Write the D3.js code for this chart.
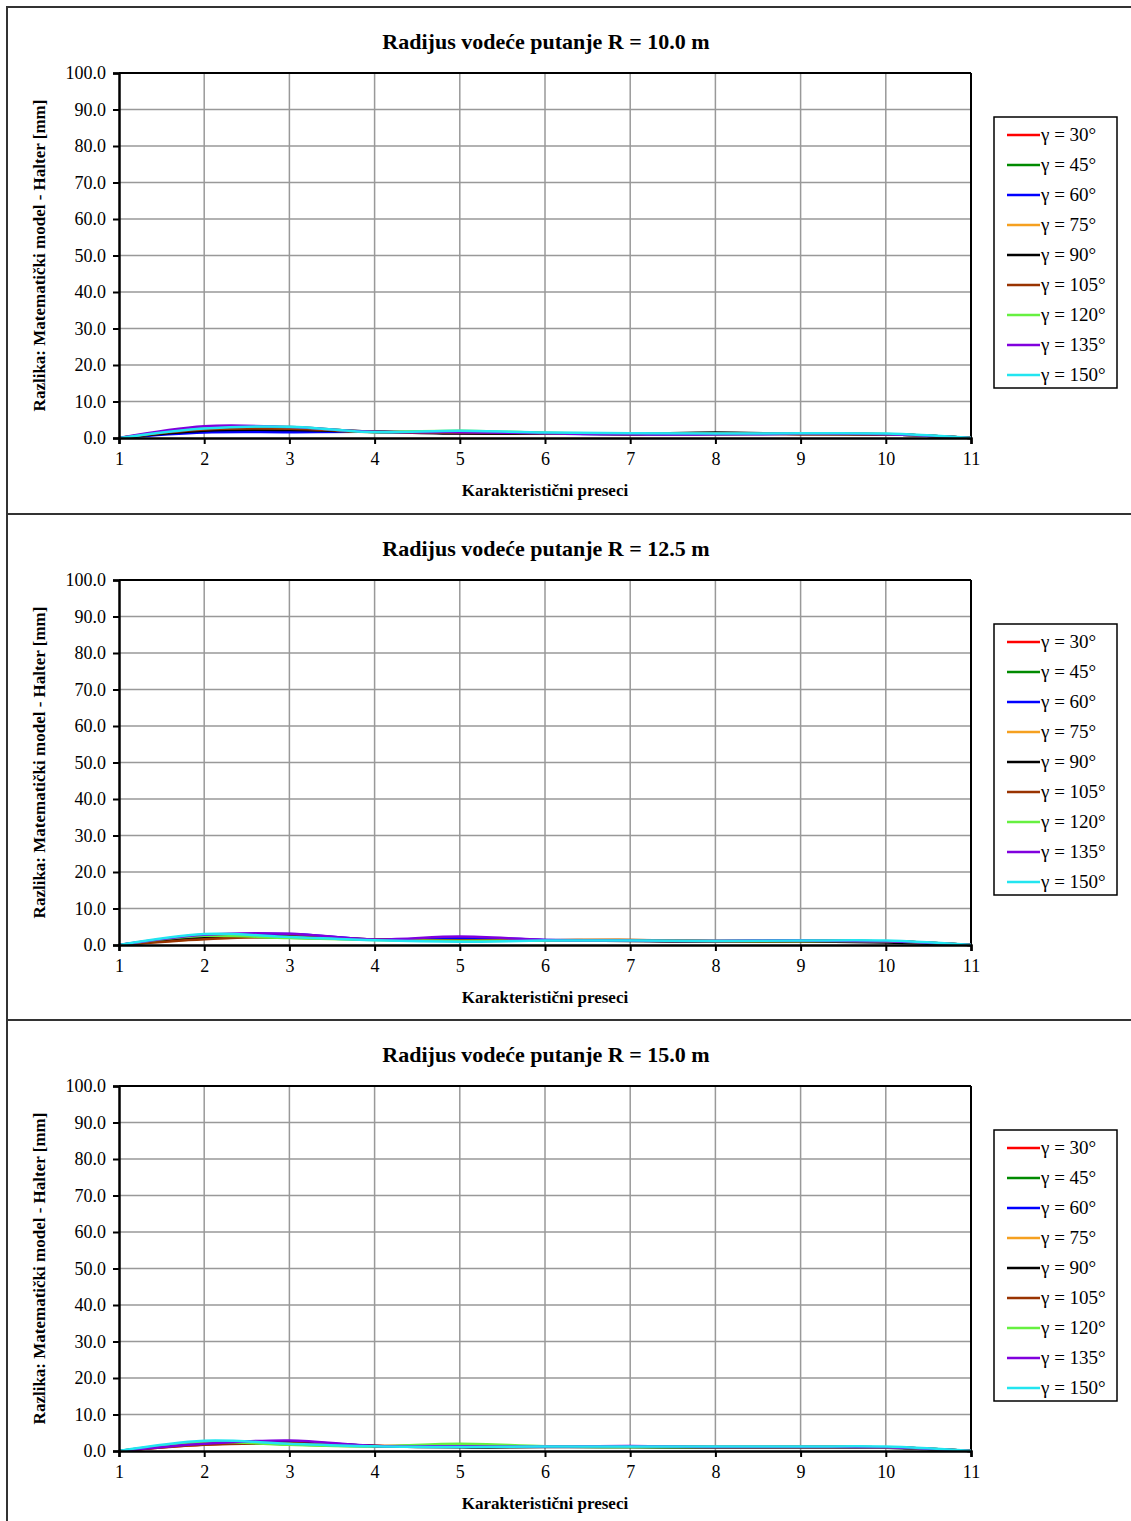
<!DOCTYPE html>
<html><head><meta charset="utf-8">
<script src="https://cdn.jsdelivr.net/npm/d3@7"></script>
<style>
body{margin:0;background:#fff;}
svg{display:block;font-family:"Liberation Serif","Times New Roman",serif;}
</style></head>
<body>
<svg id="c" width="1131" height="1521"></svg>
<script>
const sections = [1,2,3,4,5,6,7,8,9,10,11];
const yTicks = [0,10,20,30,40,50,60,70,80,90,100];
const seriesNames = ["γ = 30°","γ = 45°","γ = 60°","γ = 75°","γ = 90°","γ = 105°","γ = 120°","γ = 135°","γ = 150°"];
const seriesColors = ["#ff0000","#008a00","#0000ff","#f5a020","#000000","#993300","#66f040","#8000dd","#22e5f0"];
const chartTitles = ["Radijus vodeće putanje R = 10.0 m","Radijus vodeće putanje R = 12.5 m","Radijus vodeće putanje R = 15.0 m"];
const yLabel = "Razlika: Matematički model - Halter [mm]";
const xLabel = "Karakteristični preseci";

const r10 = [
 [0,2.5,2.6,1.7,1.6,1.3,1.1,1.2,1.1,1.0,0],
 [0,2.4,2.8,1.7,1.8,1.4,1.1,1.1,1.2,1.0,0],
 [0,1.5,1.6,1.7,1.3,1.2,1.0,1.0,1.1,1.0,0],
 [0,2.2,2.4,1.6,1.5,1.3,1.1,1.1,1.1,1.0,0],
 [0,2.0,2.2,1.7,1.2,1.2,1.1,1.5,1.1,1.0,0],
 [0,2.3,2.5,1.6,1.4,1.3,1.1,1.3,1.1,1.0,0],
 [0,2.8,3.0,1.7,2.0,1.4,1.2,1.1,1.2,1.1,0],
 [0,3.2,3.0,1.7,1.6,1.3,1.0,1.0,1.2,1.0,0],
 [0,2.6,3.1,1.6,2.0,1.5,1.3,1.2,1.3,1.2,0]
];
const r125 = [
 [0,2.0,2.2,1.5,1.3,1.2,1.2,1.0,1.1,1.0,0],
 [0,2.2,2.0,1.5,1.2,1.3,1.2,1.0,1.1,1.0,0],
 [0,2.6,3.0,1.5,2.0,1.4,1.2,1.1,1.2,1.0,0],
 [0,1.7,2.3,1.5,1.3,1.3,1.4,1.0,1.1,1.0,0],
 [0,2.0,2.3,1.5,1.2,1.2,1.1,1.0,1.0,0.7,0],
 [0,1.6,2.2,1.5,1.3,1.3,1.4,1.1,1.1,1.0,0],
 [0,2.5,1.9,1.4,1.1,1.2,1.2,1.1,1.1,1.0,0],
 [0,2.8,3.1,1.5,2.3,1.4,1.2,1.1,1.2,1.0,0],
 [0,3.0,2.2,1.3,0.9,1.2,1.2,1.1,1.2,1.2,0]
];
const r15 = [
 [0,1.8,2.2,1.4,1.4,1.2,1.2,1.1,1.1,1.0,0],
 [0,2.2,1.8,1.3,1.6,1.2,1.1,1.0,1.1,1.0,0],
 [0,2.3,2.6,1.4,1.3,1.2,1.3,1.1,1.1,1.0,0],
 [0,1.9,2.2,1.4,1.4,1.2,1.2,1.1,1.1,1.0,0],
 [0,2.0,2.3,1.4,1.0,1.1,1.1,1.0,1.0,0.9,0],
 [0,1.7,2.1,1.4,1.3,1.2,1.2,1.1,1.1,1.0,0],
 [0,2.4,1.7,1.3,2.0,1.3,1.1,1.1,1.1,1.0,0],
 [0,2.0,2.9,1.4,1.3,1.2,1.4,1.1,1.1,1.0,0],
 [0,2.8,2.0,1.3,1.1,1.2,1.2,1.2,1.2,1.2,0]
];
const panelData = [r10, r125, r15];
const panelTops = [7, 514, 1020];

const svg = d3.select("#c");

// outer frame lines
svg.append("line").attr("x1",7).attr("x2",7).attr("y1",6).attr("y2",1521).attr("stroke","#333").attr("stroke-width",2);
panelTops.forEach(t=>{
  svg.append("line").attr("x1",6).attr("x2",1131).attr("y1",t).attr("y2",t).attr("stroke","#333").attr("stroke-width",2);
});

const plotL = 119, plotR = 971, plotH = 365;
const FONT = "Liberation Serif, Times New Roman, serif";

panelData.forEach((data, pi) => {
  const top = panelTops[pi];
  const pT = top + 66, pB = pT + plotH;
  const g = svg.append("g");
  const x = d3.scaleLinear().domain([1,11]).range([plotL, plotR]);
  const y = d3.scaleLinear().domain([0,100]).range([pB, pT]);

  // title
  g.append("text").attr("x",(plotL+plotR)/2+1).attr("y",top+42).attr("text-anchor","middle")
    .attr("font-size",22).attr("font-weight","bold").text(chartTitles[pi]);

  // grid
  g.append("g").selectAll("line").data(yTicks.slice(1)).join("line")
    .attr("x1",plotL).attr("x2",plotR).attr("y1",d=>y(d)).attr("y2",d=>y(d))
    .attr("stroke","#999").attr("stroke-width",1.5);
  g.append("g").selectAll("line").data(sections.slice(1)).join("line")
    .attr("x1",d=>x(d)).attr("x2",d=>x(d)).attr("y1",pT).attr("y2",pB)
    .attr("stroke","#999").attr("stroke-width",1.5);

  // frame top/right
  g.append("line").attr("x1",plotL).attr("x2",plotR).attr("y1",pT).attr("y2",pT).attr("stroke","#000").attr("stroke-width",2);
  g.append("line").attr("x1",plotR).attr("x2",plotR).attr("y1",pT).attr("y2",pB).attr("stroke","#000").attr("stroke-width",2);

  // series
  const line = d3.line().x((d,i)=>x(sections[i])).y(d=>y(d)).curve(d3.curveCatmullRom.alpha(0.5));
  data.forEach((vals, si) => {
    g.append("path").attr("d", line(vals)).attr("fill","none")
      .attr("stroke", seriesColors[si]).attr("stroke-width",2.5);
  });

  // axes
  const ya = g.append("g").attr("transform",`translate(${plotL},0)`)
    .call(d3.axisLeft(y).tickValues(yTicks).tickFormat(d3.format(".1f")).tickSize(6).tickPadding(7));
  ya.select(".domain").attr("stroke","#000").attr("stroke-width",2.5);
  ya.selectAll(".tick line").attr("stroke","#000").attr("stroke-width",2);
  ya.selectAll("text").attr("font-size",18).attr("font-family",FONT).attr("fill","#000");

  const xa = g.append("g").attr("transform",`translate(0,${pB})`)
    .call(d3.axisBottom(x).tickValues(sections).tickFormat(d3.format("d")).tickSize(6).tickPadding(8));
  xa.select(".domain").attr("stroke","#000").attr("stroke-width",2.5);
  xa.selectAll(".tick line").attr("stroke","#000").attr("stroke-width",2);
  xa.selectAll("text").attr("font-size",18).attr("font-family",FONT).attr("fill","#000");

  // axis labels
  g.append("text").attr("transform",`translate(45,${(pT+pB)/2}) rotate(-90)`).attr("text-anchor","middle")
    .attr("font-size",17).attr("font-weight","bold").text(yLabel);
  g.append("text").attr("x",(plotL+plotR)/2).attr("y",pB+58).attr("text-anchor","middle")
    .attr("font-size",17).attr("font-weight","bold").text(xLabel);

  // legend
  const lg = g.append("g");
  lg.append("rect").attr("x",994).attr("y",pT+44).attr("width",123).attr("height",271)
    .attr("fill","#fff").attr("stroke","#000").attr("stroke-width",1.5);
  seriesNames.forEach((n, si) => {
    const cy = pT + 62 + si*30;
    lg.append("line").attr("x1",1007).attr("x2",1040).attr("y1",cy).attr("y2",cy)
      .attr("stroke",seriesColors[si]).attr("stroke-width",2.5);
    lg.append("text").attr("x",1041).attr("y",cy+6).attr("font-size",19).text(n);
  });
});
</script>
</body></html>
